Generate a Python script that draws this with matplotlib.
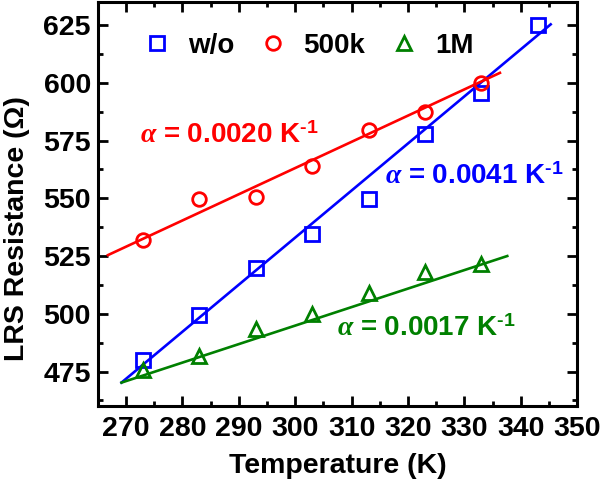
import matplotlib
matplotlib.use('Agg')
import matplotlib.pyplot as plt
from matplotlib.ticker import MultipleLocator

plt.rcParams['font.family'] = ['Liberation Sans', 'DejaVu Sans']
plt.rcParams['font.weight'] = 'bold'
plt.rcParams['mathtext.fontset'] = 'custom'
plt.rcParams['mathtext.it'] = 'Liberation Serif:italic'
plt.rcParams['mathtext.bf'] = 'Liberation Sans:bold'
plt.rcParams['mathtext.rm'] = 'Liberation Sans:bold'

# data
temp = [273, 283, 293, 303, 313, 323, 333, 343]
r_wo = [480, 499.5, 520, 534.5, 549.5, 578, 595.5, 625]
r_500k = [532, 549.5, 550.5, 564, 579.5, 587.5, 600]
r_1m = [475.5, 481.5, 493.5, 500, 509, 518, 521.5]

# linear fit lines (end points)
fit_wo_x, fit_wo_y = [269.2, 345.3], [470.2, 625.3]
fit_500k_x, fit_500k_y = [266.8, 336.3], [525.4, 604.3]
fit_1m_x, fit_1m_y = [269.2, 337.6], [470.2, 525.0]

labels = ['w/o', '500k', '1M']
colors = ['#0000ff', '#ff0000', '#008000']
markers = ['s', 'o', '^']
alpha_text = ['0.0041', '0.0020', '0.0017']
text_pos = [(316, 559.5), (272.4, 577), (307.4, 493.5)]

series = [r_wo, r_500k, r_1m]
fits = [(fit_wo_x, fit_wo_y), (fit_500k_x, fit_500k_y), (fit_1m_x, fit_1m_y)]

fig = plt.figure(figsize=(6, 4.87), dpi=100)
ax = fig.add_axes([0.163, 0.166, 0.799, 0.830])

for y, lab, c, m, (fx, fy) in zip(series, labels, colors, markers, fits):
    x = temp[:len(y)]
    ax.plot(x, y, linestyle='none', marker=m, ms=10.5 if m == '^' else 9.8,
            mfc='none', mec=c, mew=2.0, label=lab)
    ax.plot(fx, fy, color=c, lw=1.9)

for t, c, (tx, ty) in zip(alpha_text, colors, text_pos):
    ax.text(tx, ty, r'$\alpha$' + ' = ' + t + r' K$^{\text{-1}}$', color=c,
            fontsize=20, fontweight='bold', va='center', ha='left')

ax.set_xlim(265, 350)
ax.set_ylim(460, 635)
ax.xaxis.set_major_locator(MultipleLocator(10))
ax.xaxis.set_minor_locator(MultipleLocator(5))
ax.yaxis.set_major_locator(MultipleLocator(25))
ax.yaxis.set_minor_locator(MultipleLocator(12.5))
ax.tick_params(which='both', direction='in', top=True, right=True, width=2.0,
               labelsize=20.5)
ax.tick_params(axis='x', pad=7)
ax.tick_params(axis='y', pad=5)
ax.tick_params(which='major', length=7)
ax.tick_params(which='minor', length=3.5)
for s in ax.spines.values():
    s.set_linewidth(2.2)

ax.set_xlabel('Temperature (K)', fontsize=20.5, fontweight='bold', labelpad=8)
ax.set_ylabel('LRS Resistance (\u03a9)', fontsize=20.5, fontweight='bold')
ax.yaxis.set_label_coords(-0.142, 0.44)

ax.legend(loc='upper left', ncol=3, frameon=False, fontsize=20,
          handlelength=1.0, handletextpad=0.6, columnspacing=0.9,
          bbox_to_anchor=(0.06, 0.965), borderaxespad=0.2)

fig.savefig('out.png', dpi=100)
